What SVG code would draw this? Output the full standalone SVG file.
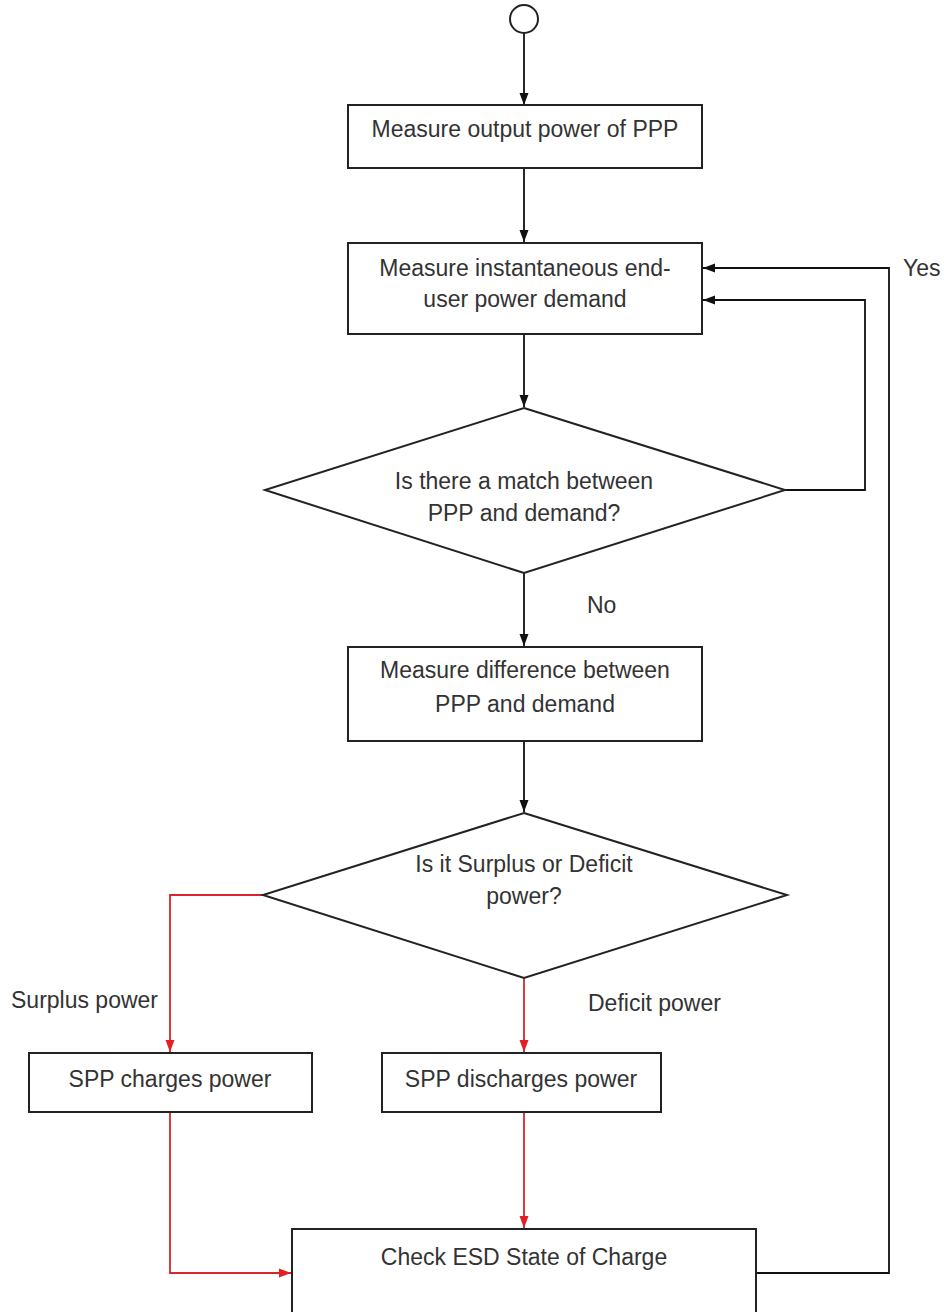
<svg xmlns="http://www.w3.org/2000/svg" width="944" height="1312" viewBox="0 0 944 1312">
<defs>
<marker id="ab" viewBox="0 0 12 10" refX="12" refY="5" markerWidth="12" markerHeight="10" markerUnits="userSpaceOnUse" orient="auto"><path d="M0,0.5 L12,5 L0,9.5 z" fill="#111"/></marker>
<marker id="ar" viewBox="0 0 12 10" refX="12" refY="5" markerWidth="12" markerHeight="10" markerUnits="userSpaceOnUse" orient="auto"><path d="M0,0.5 L12,5 L0,9.5 z" fill="#e31e24"/></marker>
<style>
.n{fill:#fff;stroke:#222;stroke-width:2}
.t{font-family:"Liberation Sans",Arial,sans-serif;font-size:23px;fill:#333;text-anchor:middle}
.l{font-family:"Liberation Sans",Arial,sans-serif;font-size:23px;fill:#333}
.cb{fill:none;stroke:#111;stroke-width:1.8;marker-end:url(#ab)}
.cr{fill:none;stroke:#d9262b;stroke-width:1.8;marker-end:url(#ar)}
</style>
</defs>
<rect width="944" height="1312" fill="#fff"/>
<g id="connectors">
<path class="cb" d="M524,33 V105"/>
<path class="cb" d="M524,168 V242"/>
<path class="cb" d="M524,334 V407"/>
<path class="cb" d="M785,490 H865 V300 H703"/>
<path class="cb" d="M524,573 V646"/>
<path class="cb" d="M524,741 V812"/>
<path class="cr" d="M263,895 H170 V1052"/>
<path class="cr" d="M524,978 V1052"/>
<path class="cr" d="M170,1112 V1273 H291"/>
<path class="cr" d="M524,1112 V1228"/>
<path class="cb" d="M756,1273 H889 V268 H703"/>
</g>
<g id="start"><circle class="n" cx="524" cy="19" r="14"/></g>
<g id="measure-output"><rect class="n" x="348" y="105" width="354" height="63"/><text class="t" x="525" y="137">Measure output power of PPP</text></g>
<g id="measure-demand"><rect class="n" x="348" y="243" width="354" height="91"/><text class="t" x="525" y="276">Measure instantaneous end-</text><text class="t" x="525" y="307">user power demand</text></g>
<g id="match-decision"><polygon class="n" points="524,408 785,490 524,573 265,490"/><text class="t" x="524" y="489">Is there a match between</text><text class="t" x="524" y="521">PPP and demand?</text></g>
<g id="measure-difference"><rect class="n" x="348" y="647" width="354" height="94"/><text class="t" x="525" y="678">Measure difference between</text><text class="t" x="525" y="712">PPP and demand</text></g>
<g id="surplus-decision"><polygon class="n" points="524,813 787,895 524,978 263,895"/><text class="t" x="524" y="872">Is it Surplus or Deficit</text><text class="t" x="524" y="904">power?</text></g>
<g id="charges"><rect class="n" x="29" y="1053" width="283" height="59"/><text class="t" x="170" y="1087">SPP charges power</text></g>
<g id="discharges"><rect class="n" x="382" y="1053" width="279" height="59"/><text class="t" x="521" y="1087">SPP discharges power</text></g>
<g id="check-esd"><rect class="n" x="292" y="1229" width="464" height="90"/><text class="t" x="524" y="1265">Check ESD State of Charge</text></g>
<g id="labels">
<text class="l" x="903" y="276">Yes</text>
<text class="l" x="587" y="613">No</text>
<text class="l" x="11" y="1008">Surplus power</text>
<text class="l" x="588" y="1011">Deficit power</text>
</g>
</svg>
